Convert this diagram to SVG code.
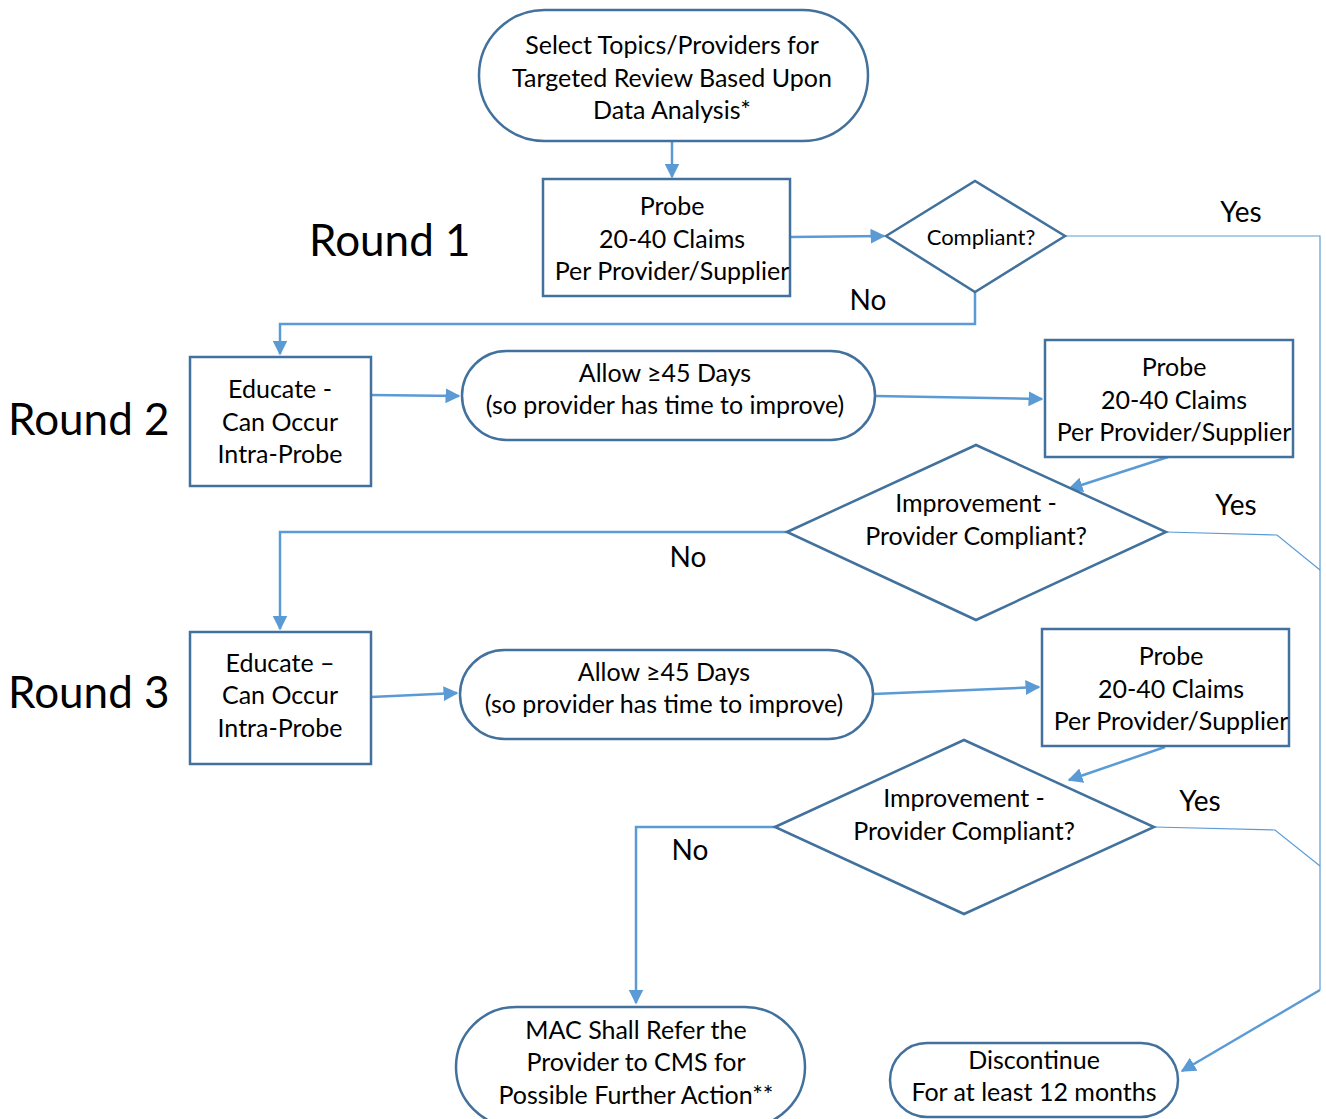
<svg xmlns="http://www.w3.org/2000/svg" width="1326" height="1119" viewBox="0 0 1326 1119">
<style>
.n{fill:#fff;stroke:#41719C;stroke-width:2.5}
.t{font-family:Lato,"Open Sans","Liberation Sans",sans-serif;font-size:25px;fill:#000;text-anchor:middle;dominant-baseline:central}
.r{font-family:Lato,"Open Sans","Liberation Sans",sans-serif;font-size:44px;fill:#000;dominant-baseline:central}
.y{font-size:28px}
.c{fill:none;stroke:#5B9BD5;stroke-width:2.5}
.th{fill:none;stroke:#5B9BD5;stroke-width:1.2}
</style>
<defs>
<marker id="a" viewBox="0 0 10 10" refX="9" refY="5" markerWidth="6" markerHeight="6" markerUnits="strokeWidth" orient="auto">
<path d="M0,0 L10,5 L0,10 z" fill="#5B9BD5"/>
</marker>
</defs>
<rect width="1326" height="1119" fill="#fff"/>
<g id="connectors">
<path class="c" d="M672,141 V177" marker-end="url(#a)"/>
<path class="c" d="M790,237 L884,236" marker-end="url(#a)"/>
<path class="th" d="M1065,236 H1320 V990"/>
<path class="c" d="M1320,990 L1182,1071" marker-end="url(#a)"/>
<path class="c" d="M975,292 V324 H280 V354" marker-end="url(#a)"/>
<path class="c" d="M371,395 L459,396" marker-end="url(#a)"/>
<path class="c" d="M875,396 L1042,399" marker-end="url(#a)"/>
<path class="c" d="M1168,457 L1069,489" marker-end="url(#a)"/>
<path class="th" d="M1166,532 L1277,535 L1320,570"/>
<path class="c" d="M787,532 H280 V629" marker-end="url(#a)"/>
<path class="c" d="M371,697 L457,693" marker-end="url(#a)"/>
<path class="c" d="M873,694 L1039,687" marker-end="url(#a)"/>
<path class="c" d="M1165,747 L1069,780" marker-end="url(#a)"/>
<path class="th" d="M1154,827 L1275,830 L1320,866"/>
<path class="c" d="M775,827 H636 V1003" marker-end="url(#a)"/>
</g>
<g id="labels">
<text class="r" x="309" y="239">Round 1</text>
<text class="r" x="8" y="418">Round 2</text>
<text class="r" x="8" y="691">Round 3</text>
<text class="t y" x="1241" y="211">Yes</text>
<text class="t y" x="868" y="299">No</text>
<text class="t y" x="1236" y="504">Yes</text>
<text class="t y" x="688" y="556">No</text>
<text class="t y" x="1200" y="800">Yes</text>
<text class="t y" x="690" y="849">No</text>
</g>
<g id="start">
<rect class="n" x="479" y="10" width="389" height="131" rx="65.5"/>
<text class="t" x="672" y="44">Select Topics/Providers for</text>
<text class="t" x="672" y="77">Targeted Review Based Upon</text>
<text class="t" x="672" y="109">Data Analysis*</text>
</g>
<g id="probe1">
<rect class="n" x="543" y="179" width="247" height="117"/>
<text class="t" x="672" y="205">Probe</text>
<text class="t" x="672" y="238">20-40 Claims</text>
<text class="t" x="672" y="270">Per Provider/Supplier</text>
</g>
<g id="compliant1">
<polygon class="n" points="886,236 975,181 1065,236 975,292"/>
<text class="t" x="981" y="236" style="font-size:22px">Compliant?</text>
</g>
<g id="educate2">
<rect class="n" x="190" y="357" width="181" height="129"/>
<text class="t" x="280" y="388">Educate -</text>
<text class="t" x="280" y="421">Can Occur</text>
<text class="t" x="280" y="453">Intra-Probe</text>
</g>
<g id="allow2">
<rect class="n" x="462" y="351" width="413" height="89" rx="44.5"/>
<text class="t" x="665" y="372">Allow ≥45 Days</text>
<text class="t" x="665" y="404">(so provider has time to improve)</text>
</g>
<g id="probe2">
<rect class="n" x="1045" y="340" width="248" height="117"/>
<text class="t" x="1174" y="366">Probe</text>
<text class="t" x="1174" y="399">20-40 Claims</text>
<text class="t" x="1174" y="431">Per Provider/Supplier</text>
</g>
<g id="compliant2">
<polygon class="n" points="787,532 976,445 1166,532 976,620"/>
<text class="t" x="976" y="502">Improvement -</text>
<text class="t" x="976" y="535">Provider Compliant?</text>
</g>
<g id="educate3">
<rect class="n" x="190" y="632" width="181" height="132"/>
<text class="t" x="280" y="662">Educate –</text>
<text class="t" x="280" y="694">Can Occur</text>
<text class="t" x="280" y="727">Intra-Probe</text>
</g>
<g id="allow3">
<rect class="n" x="460" y="650" width="413" height="89" rx="44.5"/>
<text class="t" x="664" y="671">Allow ≥45 Days</text>
<text class="t" x="664" y="703">(so provider has time to improve)</text>
</g>
<g id="probe3">
<rect class="n" x="1042" y="629" width="247" height="117"/>
<text class="t" x="1171" y="655">Probe</text>
<text class="t" x="1171" y="688">20-40 Claims</text>
<text class="t" x="1171" y="720">Per Provider/Supplier</text>
</g>
<g id="compliant3">
<polygon class="n" points="775,827 964,740 1154,827 964,914"/>
<text class="t" x="964" y="797">Improvement -</text>
<text class="t" x="964" y="830">Provider Compliant?</text>
</g>
<g id="refer">
<rect class="n" x="456" y="1007" width="349" height="120" rx="60"/>
<text class="t" x="636" y="1029">MAC Shall Refer the</text>
<text class="t" x="636" y="1061">Provider to CMS for</text>
<text class="t" x="636" y="1094">Possible Further Action**</text>
</g>
<g id="discontinue">
<rect class="n" x="890" y="1043" width="288" height="74" rx="37"/>
<text class="t" x="1034" y="1059">Discontinue</text>
<text class="t" x="1034" y="1091">For at least 12 months</text>
</g>
</svg>
